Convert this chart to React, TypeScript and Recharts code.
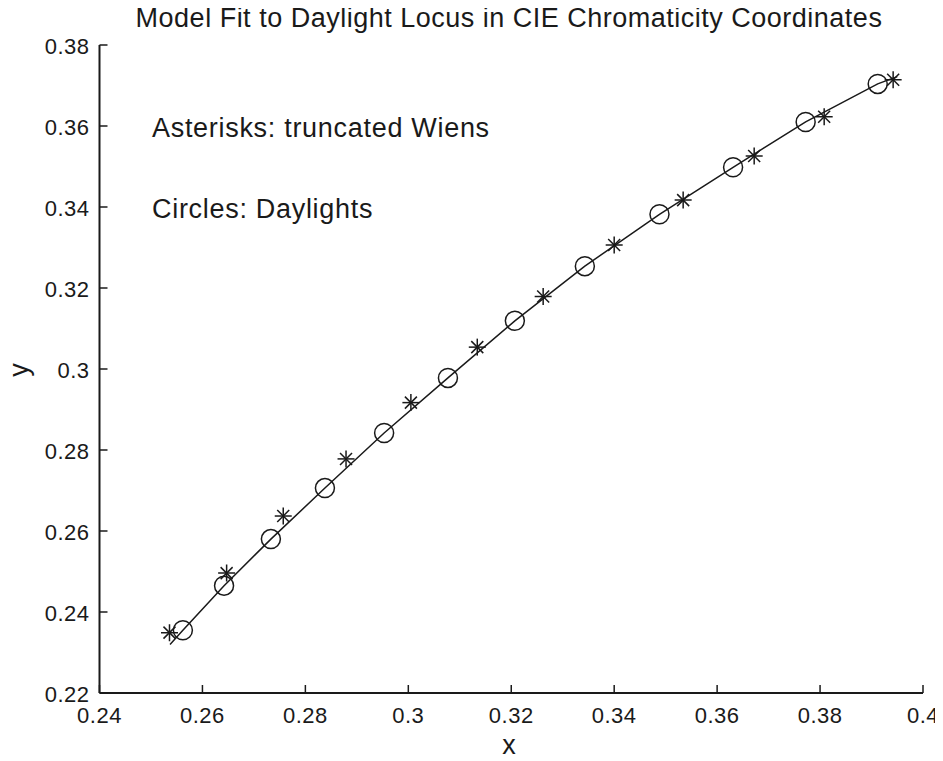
import { ScatterChart, Scatter, XAxis, YAxis } from 'recharts';

// chromaticity points
const daylightX = [0.2562, 0.2642, 0.2733, 0.2838, 0.2953, 0.3077, 0.3207, 0.3343, 0.3488, 0.3631, 0.3772, 0.3912];
const daylightY = [0.2355, 0.2465, 0.2580, 0.2706, 0.2842, 0.2978, 0.3119, 0.3254, 0.3382, 0.3498, 0.3610, 0.3704];

const wienX = [0.2536, 0.2647, 0.2757, 0.2879, 0.3005, 0.3134, 0.3262, 0.3400, 0.3534, 0.3672, 0.3808, 0.3942];
const wienY = [0.2349, 0.2496, 0.2637, 0.2778, 0.2917, 0.3054, 0.3179, 0.3306, 0.3417, 0.3526, 0.3623, 0.3714];

// model fit curve
const fitX = [0.2537, 0.2562, 0.2642, 0.2733, 0.2838, 0.2953, 0.3077, 0.3207, 0.3343, 0.3488, 0.3631, 0.3772, 0.3912, 0.3950];
const fitY = [0.2320, 0.2355, 0.2465, 0.2580, 0.2706, 0.2842, 0.2978, 0.3119, 0.3254, 0.3382, 0.3498, 0.3610, 0.3704, 0.3722];

const xTicks = [0.24, 0.26, 0.28, 0.3, 0.32, 0.34, 0.36, 0.38, 0.4];
const yTicks = [0.22, 0.24, 0.26, 0.28, 0.3, 0.32, 0.34, 0.36, 0.38];

const daylights = daylightX.map((x, i) => ({ x, y: daylightY[i] }));
const wiens = wienX.map((x, i) => ({ x, y: wienY[i] }));
const fit = fitX.map((x, i) => ({ x, y: fitY[i] }));

const FONT = '"Liberation Sans", Arial, Helvetica, sans-serif';
const INK = '#1a1a1a';
const TICK = 8;
const TICK_FONT = 22;

const fmt = (v: number) => String(Number(v.toFixed(2)));

const BottomTick = (props: any) => {
  const { x, y, payload } = props;
  return (
    <g>
      <line x1={x} y1={y} x2={x} y2={y - TICK} stroke={INK} strokeWidth={1.5} />
      <text x={x} y={y + 30} textAnchor="middle" fontSize={TICK_FONT} letterSpacing={0.5} fontFamily={FONT} fill={INK}>{fmt(payload.value)}</text>
    </g>
  );
};

const TopTick = (props: any) => {
  const { x, y } = props;
  return <line x1={x} y1={y} x2={x} y2={y + TICK} stroke={INK} strokeWidth={1.5} />;
};

const LeftTick = (props: any) => {
  const { x, y, payload } = props;
  return (
    <g>
      <line x1={x} y1={y} x2={x + TICK} y2={y} stroke={INK} strokeWidth={1.5} />
      <text x={x - 10} y={y + 8.5} textAnchor="end" fontSize={TICK_FONT} letterSpacing={0.5} fontFamily={FONT} fill={INK}>{fmt(payload.value)}</text>
    </g>
  );
};

const RightTick = (props: any) => {
  const { x, y } = props;
  return <line x1={x} y1={y} x2={x - TICK} y2={y} stroke={INK} strokeWidth={1.5} />;
};

const Ring = (props: any) => {
  const { cx, cy } = props;
  return <circle cx={cx} cy={cy} r={9.5} fill="none" stroke={INK} strokeWidth={1.5} />;
};

const Star = (props: any) => {
  const { cx, cy } = props;
  const a = 8.5;
  const d = 6;
  return (
    <g stroke={INK} strokeWidth={1.5}>
      <line x1={cx - a} y1={cy} x2={cx + a} y2={cy} />
      <line x1={cx} y1={cy - a} x2={cx} y2={cy + a} />
      <line x1={cx - d} y1={cy - d} x2={cx + d} y2={cy + d} />
      <line x1={cx - d} y1={cy + d} x2={cx + d} y2={cy - d} />
    </g>
  );
};

const NoDot = () => null;

const textStyle = { position: 'absolute' as const, fontSize: 27, whiteSpace: 'nowrap' as const, lineHeight: 'normal' };

export default function App() {
  return (
    <div style={{ position: 'relative', width: 935, height: 753, fontFamily: FONT, color: INK }}>
      <ScatterChart width={935} height={753} margin={{ top: 37, right: 20, left: 0, bottom: 0 }}>
        <XAxis
          xAxisId="b"
          type="number"
          dataKey="x"
          domain={[0.24, 0.4]}
          ticks={xTicks}
          allowDataOverflow
          height={68}
          tickSize={0}
          tickMargin={0}
          tickLine={false}
          axisLine={{ stroke: INK, strokeWidth: 2 }}
          tick={<BottomTick />}
        />
        <XAxis
          xAxisId="t"
          orientation="top"
          type="number"
          dataKey="x"
          domain={[0.24, 0.4]}
          ticks={xTicks}
          allowDataOverflow
          height={0}
          tickSize={0}
          tickMargin={0}
          tickLine={false}
          axisLine={{ stroke: INK, strokeWidth: 2 }}
          tick={<TopTick />}
        />
        <YAxis
          yAxisId="l"
          type="number"
          dataKey="y"
          domain={[0.22, 0.38]}
          ticks={yTicks}
          allowDataOverflow
          width={91.5}
          tickSize={0}
          tickMargin={0}
          tickLine={false}
          axisLine={{ stroke: INK, strokeWidth: 2 }}
          tick={<LeftTick />}
        />
        <YAxis
          yAxisId="r"
          orientation="right"
          type="number"
          dataKey="y"
          domain={[0.22, 0.38]}
          ticks={yTicks}
          allowDataOverflow
          width={0}
          tickSize={0}
          tickMargin={0}
          tickLine={false}
          axisLine={{ stroke: INK, strokeWidth: 2 }}
          tick={<RightTick />}
        />
        <Scatter
          data={fit}
          xAxisId="b"
          yAxisId="l"
          line={{ stroke: INK, strokeWidth: 1.5 }}
          shape={<NoDot />}
          isAnimationActive={false}
        />
        <Scatter data={daylights} xAxisId="b" yAxisId="l" shape={<Ring />} isAnimationActive={false} />
        <Scatter data={wiens} xAxisId="b" yAxisId="l" shape={<Star />} isAnimationActive={false} />
      </ScatterChart>
      <div style={{ ...textStyle, left: 0, width: 1002, top: -5, textAlign: 'center', letterSpacing: 0.5 }}>
        Model Fit to Daylight Locus in CIE Chromaticity Coordinates
      </div>
      <div style={{ ...textStyle, left: 144, top: 105, letterSpacing: 0.7 }}>
        Asterisks: truncated Wiens
      </div>
      <div style={{ ...textStyle, left: 144, top: 186, letterSpacing: 0.7 }}>
        Circles: Daylights
      </div>
      <div style={{ ...textStyle, left: 0, width: 1002, top: 722, textAlign: 'center' }}>
        x
      </div>
      <div style={{ ...textStyle, left: 11, top: 362, transform: 'translate(-50%, -50%) rotate(-90deg)' }}>
        y
      </div>
    </div>
  );
}
